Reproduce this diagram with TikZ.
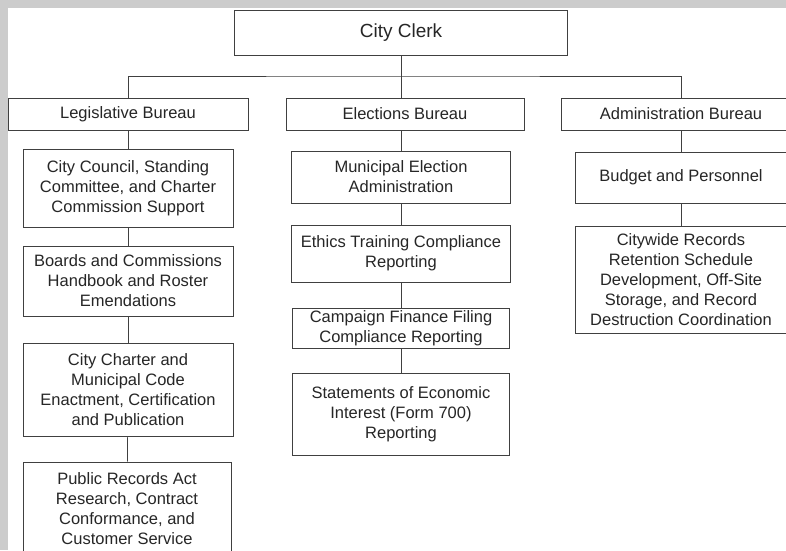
\documentclass[tikz,border=0pt]{standalone}
\usepackage{fontspec}
\setmainfont{Liberation Sans}
\begin{document}
\begin{tikzpicture}[x=1pt, y=-1pt,
    box/.style={draw=black!75, line width=0.7pt, fill=white, align=center, inner sep=0pt,
        text=black!85, font=\fontsize{16.5}{20}\selectfont},
    link/.style={draw=black!75, line width=0.7pt}]
    \useasboundingbox (0,0) rectangle (786,550);
    \clip (0,0) rectangle (786,550);
    \fill[black!20] (0,0) rectangle (786,550);
    \fill[white] (8,8) rectangle (786,550);
    % top and bureaus
    \node[box, minimum width=333pt, minimum height=45pt, font=\fontsize{19}{22}\selectfont] (clerk) at (401,32.5) {City Clerk};
    \node[box, minimum width=240pt, minimum height=32pt] (legis) at (128,114) {Legislative Bureau};
    \node[box, minimum width=238pt, minimum height=32pt] (elect) at (405,114) {Elections Bureau};
    \node[box, minimum width=240pt, minimum height=32pt] (admin) at (681,114) {Administration Bureau};
    \coordinate (bus) at (401,76);
    % legislative units
    \node[box, minimum width=210pt, minimum height=78pt] (leg1) at (128,188) {City Council, Standing\\Committee, and Charter\\Commission Support};
    \node[box, minimum width=210pt, minimum height=70pt] (leg2) at (128,281) {Boards and Commissions\\Handbook and Roster\\Emendations};
    \node[box, minimum width=210pt, minimum height=93pt] (leg3) at (128,389.5) {City Charter and\\Municipal Code\\Enactment, Certification\\and Publication};
    \node[box, minimum width=208pt, minimum height=94pt] (leg4) at (127,509) {Public Records Act\\Research, Contract\\Conformance, and\\Customer Service};
    % elections units
    \node[box, minimum width=219pt, minimum height=52pt] (ele1) at (401,177) {Municipal Election\\Administration};
    \node[box, minimum width=219pt, minimum height=57pt] (ele2) at (401,253.5) {Ethics Training Compliance\\Reporting};
    \node[box, minimum width=217pt, minimum height=40pt] (ele3) at (401,328) {Campaign Finance Filing\\Compliance Reporting};
    \node[box, minimum width=217pt, minimum height=82pt] (ele4) at (401,414) {Statements of Economic\\Interest (Form 700)\\Reporting};
    % administration units
    \node[box, minimum width=212pt, minimum height=51pt] (adm1) at (681,177.5) {Budget and Personnel};
    \node[box, minimum width=212pt, minimum height=107pt] (adm2) at (681,279.5) {Citywide Records\\Retention Schedule\\Development, Off-Site\\Storage, and Record\\Destruction Coordination};
    % connectors
    \draw[link] (clerk.south) -- (clerk.south |- elect.north);
    \draw[link] (legis.north) |- (bus) -| (admin.north);
    \path (legis) edge[link] (leg1);
    \path (leg1) edge[link] (leg2);
    \path (leg2) edge[link] (leg3);
    \path (leg3) edge[link] (leg4);
    \path (elect.south -| ele1.north) edge[link] (ele1);
    \path (ele1) edge[link] (ele2);
    \path (ele2) edge[link] (ele3);
    \path (ele3) edge[link] (ele4);
    \path (admin) edge[link] (adm1);
    \path (adm1) edge[link] (adm2);
\end{tikzpicture}
\end{document}
